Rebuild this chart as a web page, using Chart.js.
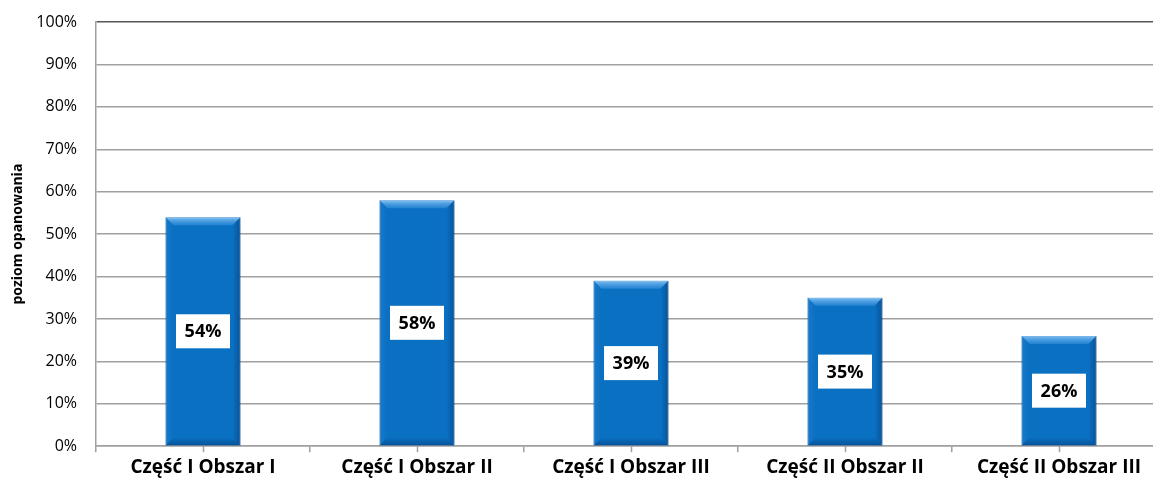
<!DOCTYPE html>
<html>
<head>
<meta charset="utf-8">
<script src="https://cdn.jsdelivr.net/npm/chart.js@4"></script>
<style>
  html, body { margin: 0; padding: 0; background: #fff; overflow: hidden; }
  #wrap { width: 1166px; height: 487px; position: relative; }
</style>
</head>
<body>
<div id="wrap"><canvas id="chart"></canvas></div>
<script>
// Data
const categories = ['Część I Obszar I', 'Część I Obszar II', 'Część I Obszar III', 'Część II Obszar II', 'Część II Obszar III'];
const values = [54, 58, 39, 35, 26];
const yTicks = [0, 10, 20, 30, 40, 50, 60, 70, 80, 90, 100];

const gridColor = '#a0a0a0';

// bevelled look for the bars
const bevelPlugin = {
    id: 'bevel',
    afterDatasetsDraw(chart) {
        const ctx = chart.ctx;
        const meta = chart.getDatasetMeta(0);
        const b = 8;
        meta.data.forEach(bar => {
            const l = bar.x - bar.width / 2, r = bar.x + bar.width / 2;
            const t = bar.y, btm = bar.base;
            ctx.save();
            // top
            let g = ctx.createLinearGradient(0, t, 0, t + b);
            g.addColorStop(0, 'rgba(150,205,250,0.85)');
            g.addColorStop(1, 'rgba(60,150,225,0.5)');
            ctx.fillStyle = g;
            ctx.beginPath();
            ctx.moveTo(l, t); ctx.lineTo(r, t); ctx.lineTo(r - b, t + b); ctx.lineTo(l + b, t + b);
            ctx.closePath(); ctx.fill();
            // left
            g = ctx.createLinearGradient(l, 0, l + b, 0);
            g.addColorStop(0, 'rgba(40,130,210,0.5)');
            g.addColorStop(1, 'rgba(40,130,210,0)');
            ctx.fillStyle = g;
            ctx.beginPath();
            ctx.moveTo(l, t); ctx.lineTo(l + b, t + b); ctx.lineTo(l + b, btm - b); ctx.lineTo(l, btm);
            ctx.closePath(); ctx.fill();
            // right
            g = ctx.createLinearGradient(r - b, 0, r, 0);
            g.addColorStop(0, 'rgba(0,50,110,0)');
            g.addColorStop(1, 'rgba(0,50,110,0.45)');
            ctx.fillStyle = g;
            ctx.beginPath();
            ctx.moveTo(r, t); ctx.lineTo(r - b, t + b); ctx.lineTo(r - b, btm - b); ctx.lineTo(r, btm);
            ctx.closePath(); ctx.fill();
            // bottom
            g = ctx.createLinearGradient(0, btm - b, 0, btm);
            g.addColorStop(0, 'rgba(0,40,90,0)');
            g.addColorStop(1, 'rgba(0,40,90,0.4)');
            ctx.fillStyle = g;
            ctx.beginPath();
            ctx.moveTo(l, btm); ctx.lineTo(l + b, btm - b); ctx.lineTo(r - b, btm - b); ctx.lineTo(r, btm);
            ctx.closePath(); ctx.fill();
            ctx.restore();
        });
    }
};

// white value boxes in the middle of each bar
const labelPlugin = {
    id: 'valueBoxes',
    afterDatasetsDraw(chart) {
        const ctx = chart.ctx;
        const meta = chart.getDatasetMeta(0);
        ctx.save();
        ctx.font = "bold 18px 'Open Sans', sans-serif";
        ctx.textAlign = 'center';
        ctx.textBaseline = 'middle';
        meta.data.forEach((bar, i) => {
            const cy = (bar.y + bar.base) / 2;
            const w = 54, h = 34;
            ctx.fillStyle = '#ffffff';
            ctx.fillRect(bar.x - w / 2, cy - h / 2, w, h);
            ctx.fillStyle = '#000000';
            ctx.fillText(values[i] + '%', bar.x, cy + 1);
        });
        ctx.restore();
    }
};

// small tick marks under the category centres
const centerTicks = {
    id: 'centerTicks',
    afterDraw(chart) {
        const ctx = chart.ctx;
        const xs = chart.scales.x;
        const y0 = chart.chartArea.bottom;
        ctx.save();
        ctx.strokeStyle = gridColor;
        ctx.lineWidth = 1.5;
        categories.forEach((c, i) => {
            const px = Math.round(xs.getPixelForValue(i)) + 0.5;
            ctx.beginPath();
            ctx.moveTo(px, y0);
            ctx.lineTo(px, y0 + 6);
            ctx.stroke();
        });
        ctx.restore();
    }
};

new Chart(document.getElementById('chart'), {
    type: 'bar',
    data: {
        labels: categories,
        datasets: [{
            data: values,
            backgroundColor: '#0A70C2',
            borderColor: '#0A5796',
            borderWidth: 1,
            barPercentage: 0.35,
            categoryPercentage: 1.0
        }]
    },
    options: {
        responsive: true,
        maintainAspectRatio: false,
        animation: false,
        layout: { padding: { top: 22, right: 0, left: 6, bottom: 4 } },
        plugins: {
            legend: { display: false },
            tooltip: { enabled: false }
        },
        scales: {
            x: {
                grid: { display: true, drawOnChartArea: false, offset: true, tickLength: 6, color: gridColor, lineWidth: 1.5 },
                border: { color: gridColor, width: 1.5 },
                ticks: {
                    color: '#000',
                    font: { family: "'Open Sans', sans-serif", size: 19, weight: 'bold' },
                    padding: 4,
                    maxRotation: 0
                }
            },
            y: {
                min: 0,
                max: 100,
                afterBuildTicks: axis => { axis.ticks = yTicks.map(v => ({ value: v })); },
                afterFit: axis => { axis.width = 90; },
                grid: {
                    color: ctx => ctx.tick && ctx.tick.value === 100 ? '#555' : gridColor,
                    lineWidth: 1.5,
                    tickLength: 15,
                    tickColor: 'rgba(0,0,0,0)'
                },
                border: { color: gridColor, width: 1.5 },
                title: {
                    display: true,
                    text: 'poziom opanowania',
                    color: '#000',
                    font: { family: "'Open Sans', sans-serif", size: 14, weight: 'bold' },
                    padding: { bottom: 6 }
                },
                ticks: {
                    color: '#000',
                    font: { family: "'Open Sans', sans-serif", size: 16 },
                    padding: 4,
                    callback: v => v + '%'
                }
            }
        }
    },
    plugins: [bevelPlugin, labelPlugin, centerTicks]
});
</script>
</body>
</html>
